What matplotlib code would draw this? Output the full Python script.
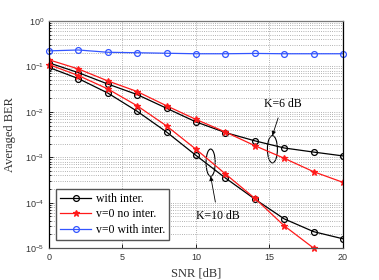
import numpy as np
import matplotlib
matplotlib.use("Agg")
import matplotlib.pyplot as plt
from matplotlib.patches import Ellipse

# SNR grid (dB)
snr = [0, 2, 4, 6, 8, 10, 12, 14, 16, 18, 20]

# K=6 dB curves
k6_inter = [0.12, 0.073, 0.041, 0.024, 0.012, 0.0060, 0.0035, 2.3e-3, 1.6e-3, 1.3e-3, 1.07e-3]
k6_nointer = [0.14, 0.088, 0.048, 0.028, 0.0136, 0.0068, 0.0036, 1.8e-3, 9.5e-4, 4.8e-4, 2.8e-4]
# K=10 dB curves
k10_inter = [0.095, 0.054, 0.026, 0.0103, 0.0036, 0.0011, 3.5e-4, 1.2e-4, 4.4e-5, 2.3e-5, 1.6e-5]
snr_k10_nointer = [0, 2, 4, 6, 8, 10, 12, 14, 16, 18]
k10_nointer = [0.11, 0.063, 0.032, 0.0136, 0.0049, 0.0015, 4.3e-4, 1.25e-4, 3.1e-5, 1.0e-5]
# v=0 with interference
v0_inter = [0.22, 0.23, 0.205, 0.20, 0.195, 0.19, 0.19, 0.193, 0.19, 0.19, 0.19]

SERIF = "Liberation Serif"
SANS = "Liberation Sans"

fig = plt.figure(figsize=(3.79, 2.80), dpi=100)
ax = fig.add_axes([0.129, 0.114, 0.776, 0.811])

BLK = "black"
RED = "#ff1a1a"
BLU = "#3355ff"
MS = 4.2

ax.plot(snr, k6_inter, "-o", color=BLK, lw=0.9, ms=MS, mfc="none", mew=0.9,
        label="with inter.")
ax.plot(snr, k6_nointer, "-*", color=RED, lw=0.9, ms=MS + 0.5, mew=0.9,
        label=r"v=0 no inter.")
ax.plot(snr, k10_inter, "-o", color=BLK, lw=0.9, ms=MS, mfc="none", mew=0.9)
ax.plot(snr_k10_nointer, k10_nointer, "-*", color=RED, lw=0.9, ms=MS + 0.5, mew=0.9,
        clip_on=False)
ax.plot(snr, v0_inter, "-o", color=BLU, lw=0.9, ms=MS, mfc="none", mew=0.9,
        label="v=0 with inter.", clip_on=False)

ax.set_yscale("log")
ax.set_xlim(0, 20)
ax.set_ylim(1e-5, 1)
ax.set_xticks([0, 5, 10, 15, 20])
ax.set_yticks([1e0, 1e-1, 1e-2, 1e-3, 1e-4, 1e-5])
ax.grid(True, which="major", ls=":", lw=0.6, color="#999999")
ax.grid(True, which="minor", axis="y", ls=":", lw=0.6, color="#999999")
ax.tick_params(which="both", direction="in", labelsize=6.5, length=3, width=0.6)
ax.tick_params(which="minor", length=1.5)
for lab in ax.get_xticklabels() + ax.get_yticklabels():
    lab.set_fontfamily(SANS)
    lab.set_color("#333333")
for s in ax.spines.values():
    s.set_linewidth(0.9)
ax.spines["top"].set_color("#777777")
ax.spines["bottom"].set_color("#555555")

ax.set_xlabel("SNR [dB]", fontfamily=SERIF, fontsize=9, color="#333333", labelpad=4)
ax.set_ylabel("Averaged BER", fontfamily=SERIF, fontsize=9, color="#333333", labelpad=6)

# ellipses around curve pairs (axes fraction)
def logfrac(v):
    return (np.log10(v) + 5) / 5

e6 = Ellipse((15.2 / 20, logfrac(1.5e-3)), 0.034, 0.12, transform=ax.transAxes,
             fill=False, ec="black", lw=0.8)
e10 = Ellipse((11.0 / 20, logfrac(7.6e-4)), 0.031, 0.12, transform=ax.transAxes,
              fill=False, ec="black", lw=0.8)
ax.add_patch(e6)
ax.add_patch(e10)

ax.annotate("K=6 dB", xy=(15.2, 3.0e-3), xytext=(15.9, 1.5e-2),
            fontfamily=SERIF, fontsize=8.5, ha="center", va="center",
            arrowprops=dict(arrowstyle="-|>", lw=0.6, color="black",
                            mutation_scale=6, shrinkA=4, shrinkB=0))
ax.annotate("K=10 dB", xy=(11.0, 3.8e-4), xytext=(11.5, 5.0e-5),
            fontfamily=SERIF, fontsize=8.5, ha="center", va="center",
            arrowprops=dict(arrowstyle="-|>", lw=0.6, color="black",
                            mutation_scale=6, shrinkA=4, shrinkB=0))

leg = ax.legend(loc="lower left", bbox_to_anchor=(0.025, 0.035),
                prop={"family": SERIF, "size": 8.5}, fancybox=False,
                framealpha=1, edgecolor="#555555", handlelength=2.6,
                borderpad=0.35, labelspacing=0.3, handletextpad=0.4,
                borderaxespad=0)
leg.get_frame().set_linewidth(1.0)

fig.savefig("out.png", dpi=100)
